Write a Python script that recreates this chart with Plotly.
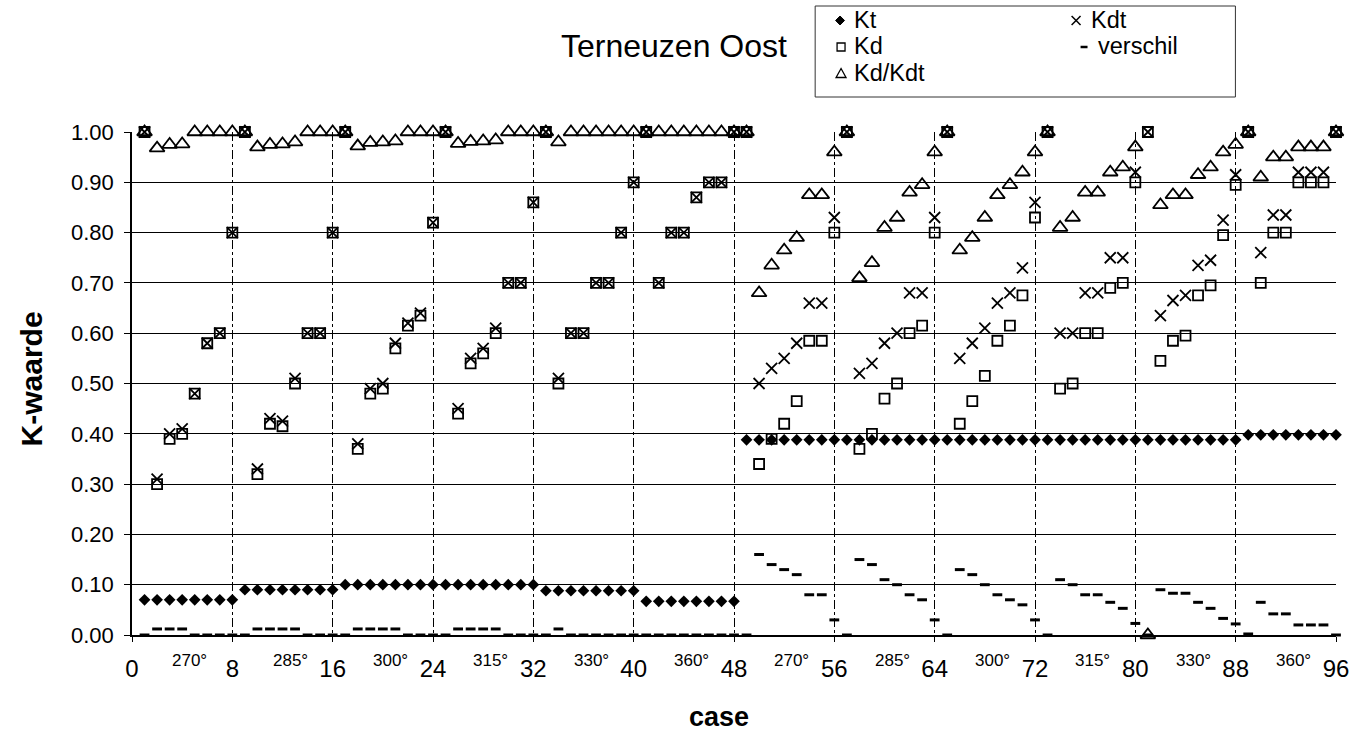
import plotly.graph_objects as go

# ---------------- data ----------------
cases = list(range(1, 97))

kt = [0.07, 0.07, 0.07, 0.07, 0.07, 0.07, 0.07, 0.07,
      0.09, 0.09, 0.09, 0.09, 0.09, 0.09, 0.09, 0.09,
      0.10, 0.10, 0.10, 0.10, 0.10, 0.10, 0.10, 0.10,
      0.10, 0.10, 0.10, 0.10, 0.10, 0.10, 0.10, 0.10,
      0.088, 0.088, 0.088, 0.088, 0.088, 0.088, 0.088, 0.088,
      0.067, 0.067, 0.067, 0.067, 0.067, 0.067, 0.067, 0.067,
      0.388, 0.388, 0.388, 0.388, 0.388, 0.388, 0.388, 0.388,
      0.388, 0.388, 0.388, 0.388, 0.388, 0.388, 0.388, 0.388,
      0.388, 0.388, 0.388, 0.388, 0.388, 0.388, 0.388, 0.388,
      0.388, 0.388, 0.388, 0.388, 0.388, 0.388, 0.388, 0.388,
      0.388, 0.388, 0.388, 0.388, 0.388, 0.388, 0.388, 0.388,
      0.398, 0.398, 0.398, 0.398, 0.398, 0.398, 0.398, 0.398]

kd = [1.00, 0.30, 0.39, 0.40, 0.48, 0.58, 0.60, 0.80,
      1.00, 0.32, 0.42, 0.415, 0.50, 0.60, 0.60, 0.80,
      1.00, 0.37, 0.48, 0.49, 0.57, 0.615, 0.635, 0.82,
      1.00, 0.44, 0.54, 0.56, 0.60, 0.70, 0.70, 0.86,
      1.00, 0.50, 0.60, 0.60, 0.70, 0.70, 0.80, 0.90,
      1.00, 0.70, 0.80, 0.80, 0.87, 0.90, 0.90, 1.00,
      1.00, 0.34, 0.39, 0.42, 0.465, 0.585, 0.585, 0.80,
      1.00, 0.37, 0.40, 0.47, 0.50, 0.60, 0.615, 0.80,
      1.00, 0.42, 0.465, 0.515, 0.585, 0.615, 0.675, 0.83,
      1.00, 0.49, 0.50, 0.60, 0.60, 0.69, 0.70, 0.90,
      1.00, 0.545, 0.585, 0.595, 0.675, 0.695, 0.795, 0.895,
      1.00, 0.70, 0.80, 0.80, 0.90, 0.90, 0.90, 1.00]

kdt = [1.00, 0.31, 0.40, 0.41, 0.48, 0.58, 0.60, 0.80,
       1.00, 0.33, 0.43, 0.425, 0.51, 0.60, 0.60, 0.80,
       1.00, 0.38, 0.49, 0.50, 0.58, 0.62, 0.64, 0.82,
       1.00, 0.45, 0.55, 0.57, 0.61, 0.70, 0.70, 0.86,
       1.00, 0.51, 0.60, 0.60, 0.70, 0.70, 0.80, 0.90,
       1.00, 0.70, 0.80, 0.80, 0.87, 0.90, 0.90, 1.00,
       1.00, 0.50, 0.53, 0.55, 0.58, 0.66, 0.66, 0.83,
       1.00, 0.52, 0.54, 0.58, 0.60, 0.68, 0.68, 0.83,
       1.00, 0.55, 0.58, 0.61, 0.66, 0.68, 0.73, 0.86,
       1.00, 0.60, 0.60, 0.68, 0.68, 0.75, 0.75, 0.92,
       1.00, 0.635, 0.665, 0.675, 0.735, 0.745, 0.825, 0.915,
       1.00, 0.76, 0.835, 0.835, 0.92, 0.92, 0.92, 1.00]

kd_kdt = [1.00, 0.968, 0.975, 0.976, 1.00, 1.00, 1.00, 1.00,
          1.00, 0.97, 0.975, 0.976, 0.98, 1.00, 1.00, 1.00,
          1.00, 0.972, 0.979, 0.98, 0.982, 1.00, 1.00, 1.00,
          1.00, 0.977, 0.981, 0.982, 0.984, 1.00, 1.00, 1.00,
          1.00, 0.98, 1.00, 1.00, 1.00, 1.00, 1.00, 1.00,
          1.00, 1.00, 1.00, 1.00, 1.00, 1.00, 1.00, 1.00,
          1.00, 0.68, 0.735, 0.765, 0.79, 0.875, 0.875, 0.96,
          1.00, 0.71, 0.74, 0.81, 0.83, 0.88, 0.895, 0.96,
          1.00, 0.765, 0.79, 0.83, 0.875, 0.895, 0.92, 0.96,
          1.00, 0.81, 0.83, 0.88, 0.88, 0.92, 0.93, 0.97,
          0.00, 0.855, 0.875, 0.875, 0.915, 0.93, 0.96, 0.975,
          1.00, 0.91, 0.95, 0.95, 0.97, 0.97, 0.97, 1.00]

verschil = [0.0, 0.012, 0.012, 0.012, 0.0, 0.0, 0.0, 0.0,
            0.0, 0.012, 0.012, 0.012, 0.012, 0.0, 0.0, 0.0,
            0.0, 0.012, 0.012, 0.012, 0.012, 0.0, 0.0, 0.0,
            0.0, 0.012, 0.012, 0.012, 0.012, 0.0, 0.0, 0.0,
            0.0, 0.012, 0.0, 0.0, 0.0, 0.0, 0.0, 0.0,
            0.0, 0.0, 0.0, 0.0, 0.0, 0.0, 0.0, 0.0,
            0.0, 0.16, 0.14, 0.13, 0.12, 0.08, 0.08, 0.03,
            0.0, 0.15, 0.14, 0.11, 0.10, 0.08, 0.07, 0.03,
            0.0, 0.13, 0.12, 0.10, 0.08, 0.07, 0.06, 0.03,
            0.0, 0.11, 0.10, 0.08, 0.08, 0.065, 0.053, 0.023,
            0.0, 0.09, 0.083, 0.083, 0.065, 0.053, 0.033, 0.022,
            0.002, 0.065, 0.042, 0.042, 0.02, 0.02, 0.02, 0.0]

x_ticks = [0, 8, 16, 24, 32, 40, 48, 56, 64, 72, 80, 88, 96]
y_ticks = [0.0, 0.1, 0.2, 0.3, 0.4, 0.5, 0.6, 0.7, 0.8, 0.9, 1.0]
group_labels = ["270°", "285°", "300°", "315°", "330°", "360°",
                "270°", "285°", "300°", "315°", "330°", "360°"]

title_text = "Terneuzen Oost"
x_title = "case"
y_title = "K-waarde"

# ---------------- layout geometry ----------------
W, H = 1361, 732
ML, MR, MT, MB = 132, 20, 132, 97
PL, PR, PT, PB = ML, W - MR, MT, H - MB

def px(x):
    return (x - PL) / (PR - PL)

def py(y):
    return (PB - y) / (PB - PT)

FONT = "Liberation Sans, Arial, Helvetica, sans-serif"

fig = go.Figure()

common = dict(mode="markers", cliponaxis=False, showlegend=False)

fig.add_trace(go.Scatter(x=cases, y=kd_kdt, name="Kd/Kdt",
                         marker=dict(symbol="triangle-up-open", size=13, color="black",
                                     line=dict(width=1.8, color="black")), **common))
fig.add_trace(go.Scatter(x=cases, y=kt, name="Kt",
                         marker=dict(symbol="diamond", size=9, color="black"), **common))
fig.add_trace(go.Scatter(x=cases, y=kd, name="Kd",
                         marker=dict(symbol="square-open", size=10, color="black",
                                     line=dict(width=1.8, color="black")), **common))
fig.add_trace(go.Scatter(x=cases, y=kdt, name="Kdt",
                         marker=dict(symbol="x-thin-open", size=11, color="black",
                                     line=dict(width=1.8, color="black")), **common))
fig.add_trace(go.Scatter(x=cases, y=verschil, name="verschil",
                         marker=dict(symbol="line-ew-open", size=7, color="black",
                                     line=dict(width=3, color="black")), **common))

fig.update_layout(
    width=W, height=H,
    margin=dict(l=ML, r=MR, t=MT, b=MB),
    paper_bgcolor="white", plot_bgcolor="white",
    font=dict(family=FONT, color="black"),
    showlegend=False,
)

fig.update_xaxes(range=[0, 96], tickvals=x_ticks, ticktext=[str(v) for v in x_ticks],
                 showgrid=True, gridcolor="black", gridwidth=1, griddash="dashdot",
                 showline=True, linecolor="black", linewidth=1.5,
                 ticks="outside", ticklen=5, tickcolor="black",
                 tickfont=dict(size=24, family=FONT), ticklabelstandoff=6,
                 zeroline=False)
fig.update_yaxes(range=[0, 1], tickvals=y_ticks, tickformat=".2f",
                 showgrid=True, gridcolor="black", gridwidth=1,
                 showline=True, linecolor="black", linewidth=1.5,
                 ticks="outside", ticklen=6, tickcolor="black",
                 tickfont=dict(size=22, family=FONT), ticklabelstandoff=6,
                 zeroline=False)

ann = []
# degree labels between ticks
for i, lab in enumerate(group_labels):
    xc = (x_ticks[i] + x_ticks[i + 1]) / 2 + 0.6
    ann.append(dict(x=xc, xref="x", y=py(660), yref="paper", text=lab,
                    showarrow=False, font=dict(size=17, family=FONT),
                    xanchor="center", yanchor="middle"))
# title
ann.append(dict(x=px(676), y=py(46), xref="paper", yref="paper", text=title_text,
                showarrow=False, font=dict(size=32, family=FONT),
                xanchor="center", yanchor="middle"))
# axis titles
ann.append(dict(x=px(721), y=py(717), xref="paper", yref="paper", text="<b>%s</b>" % x_title,
                showarrow=False, font=dict(size=27, family=FONT),
                xanchor="center", yanchor="middle"))
ann.append(dict(x=px(31), y=py(379), xref="paper", yref="paper", text="<b>%s</b>" % y_title,
                showarrow=False, font=dict(size=30, family=FONT), textangle=-90,
                xanchor="center", yanchor="middle"))

# legend entries: (name, key x, text x, row y)
legend_entries = [
    ("Kt", 843, 855, 19.5),
    ("Kd", 844, 855, 46.0),
    ("Kd/Kdt", 844, 855, 72.5),
    ("Kdt", 1080, 1093, 19.5),
    ("verschil", 1088, 1100, 46.0),
]
LEG_FONT = 23.5
for name, kx, tx, ry in legend_entries:
    ann.append(dict(x=px(tx), y=py(ry), xref="paper", yref="paper", text=name,
                    showarrow=False, font=dict(size=LEG_FONT, family=FONT),
                    xanchor="left", yanchor="middle"))
fig.update_layout(annotations=ann)

# legend box
fig.add_shape(type="rect", xref="paper", yref="paper",
              x0=px(818), x1=px(1240), y0=py(97), y1=py(6),
              line=dict(color="#333333", width=1))

# legend keys drawn as small shapes (pixel geometry converted to paper units)
def path(points, close=True):
    s = "M " + " L ".join("%f,%f" % (px(a), py(b)) for a, b in points)
    return s + (" Z" if close else "")

key = {n: (kx, ry + 1) for n, kx, tx, ry in legend_entries}

kx, ky = key["Kt"]
fig.add_shape(type="path", xref="paper", yref="paper",
              path=path([(kx, ky - 4.5), (kx + 4.5, ky), (kx, ky + 4.5), (kx - 4.5, ky)]),
              fillcolor="black", line=dict(color="black", width=1))
kx, ky = key["Kd"]
fig.add_shape(type="rect", xref="paper", yref="paper",
              x0=px(kx - 4), x1=px(kx + 4), y0=py(ky + 4), y1=py(ky - 4),
              line=dict(color="black", width=1.3))
kx, ky = key["Kd/Kdt"]
fig.add_shape(type="path", xref="paper", yref="paper",
              path=path([(kx - 5, ky + 4), (kx + 5, ky + 4), (kx, ky - 5)]),
              line=dict(color="black", width=1.3))
kx, ky = key["Kdt"]
fig.add_shape(type="path", xref="paper", yref="paper",
              path=path([(kx - 4.5, ky - 4.5), (kx + 4.5, ky + 4.5)], close=False),
              line=dict(color="black", width=1.5))
fig.add_shape(type="path", xref="paper", yref="paper",
              path=path([(kx - 4.5, ky + 4.5), (kx + 4.5, ky - 4.5)], close=False),
              line=dict(color="black", width=1.5))
kx, ky = key["verschil"]
fig.add_shape(type="line", xref="paper", yref="paper",
              x0=px(kx - 3.5), x1=px(kx + 3.5), y0=py(ky), y1=py(ky),
              line=dict(color="black", width=2.5))

fig.write_html("out.html", config={"displayModeBar": False},
               post_script="document.body.style.margin='0';document.body.style.padding='0';")
